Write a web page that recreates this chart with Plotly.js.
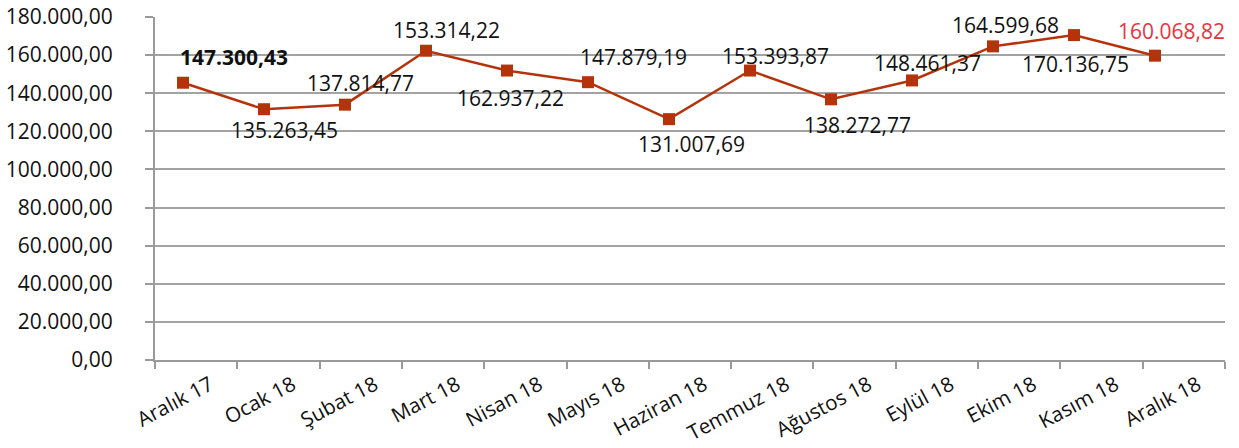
<!DOCTYPE html>
<html>
<head>
<meta charset="utf-8">
<script src="https://cdn.plot.ly/plotly-3.0.1.min.js"></script>
<style>html,body{margin:0;padding:0;background:#fff;}#chart{width:1239px;height:448px;}</style>
</head>
<body>
<div id="chart"></div>
<script>
const months = ["Aralık 17","Ocak 18","Şubat 18","Mart 18","Nisan 18","Mayıs 18","Haziran 18","Temmuz 18","Ağustos 18","Eylül 18","Ekim 18","Kasım 18","Aralık 18"];
const values = [145500,131600,134000,162300,151900,145800,126400,151900,136800,146700,164600,170500,159700];
const labelTexts = ["147.300,43","135.263,45","137.814,77","153.314,22","162.937,22","147.879,19","131.007,69","153.393,87","138.272,77","148.461,37","164.599,68","170.136,75","160.068,82"];
const yTicks = [0,20000,40000,60000,80000,100000,120000,140000,160000,180000];

// label placement (pixel offsets from each marker) and styling
const labelDx = [51,20,15,20,3,45,22,25,26,15,12,1,16];
const labelDy = [26,-21,22,21,-27,25,-25,15,-26,17,21,-29,25];
const FONT = '"Open Sans", "Noto Sans", sans-serif';
const LINE = '#B5330B';
const AXIS = '#9a9a9a';

const annotations = months.map((m, i) => ({
  x: m, y: values[i], xref: 'x2', yref: 'y',
  text: i === 0 ? '<b>' + labelTexts[i] + '</b>' : labelTexts[i],
  showarrow: false,
  xshift: labelDx[i], yshift: labelDy[i],
  font: {family: FONT, size: 21, color: i === labelTexts.length - 1 ? '#E8333C' : '#111111'}
}));

// invisible trace so the category axis knows its categories
const axisTrace = {x: months, y: values, type: 'scatter', mode: 'none', xaxis: 'x', yaxis: 'y', hoverinfo: 'skip'};

const trace = {
  x: months, y: values, type: 'scatter', mode: 'lines+markers',
  xaxis: 'x2', yaxis: 'y',
  line: {color: LINE, width: 2.5},
  marker: {symbol: 'square', size: 12, color: LINE},
  hoverinfo: 'skip', cliponaxis: false
};

const layout = {
  width: 1239, height: 448,
  margin: {l: 155, r: 14, t: 17, b: 88},
  paper_bgcolor: '#fff', plot_bgcolor: '#fff',
  separators: ',.',
  showlegend: false,
  font: {family: FONT, size: 21, color: '#111'},
  xaxis: {
    type: 'category', range: [-0.5, 12.5],
    tickson: 'boundaries', ticks: 'outside', ticklen: 7, tickwidth: 2, tickcolor: AXIS,
    showgrid: false, showline: true, linecolor: AXIS, linewidth: 2,
    tickangle: -28, ticklabelshift: 14, ticklabelstandoff: 3,
    tickfont: {family: FONT, size: 20.5, color: '#111'},
    zeroline: false, fixedrange: true
  },
  xaxis2: {
    type: 'category', overlaying: 'x', range: [-0.346, 12.864],
    visible: false, showgrid: false, zeroline: false, fixedrange: true
  },
  yaxis: {
    range: [0, 180000], tickvals: yTicks,
    tickformat: ',.2f', ticks: 'outside', ticklen: 8, tickwidth: 2, tickcolor: AXIS,
    ticklabelstandoff: 28, ticklabeloverflow: 'allow',
    showgrid: true, gridcolor: '#a3a3a3', gridwidth: 2,
    showline: true, linecolor: AXIS, linewidth: 2,
    zeroline: false, tickfont: {family: FONT, size: 21, color: '#111'}, fixedrange: true
  },
  annotations: annotations
};

Plotly.newPlot('chart', [axisTrace, trace], layout, {displayModeBar: false, staticPlot: true});
</script>
</body>
</html>
